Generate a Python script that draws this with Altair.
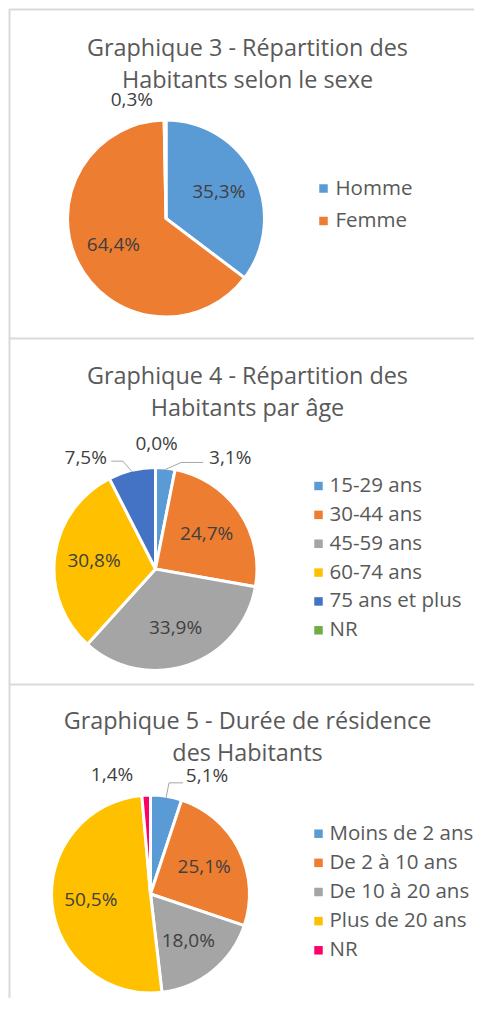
import math
import altair as alt
import pandas as pd

# ---------------- data ----------------
titles = [
    "Graphique 3 - Répartition des\nHabitants selon le sexe",
    "Graphique 4 - Répartition des\nHabitants par âge",
    "Graphique 5 - Durée de résidence\ndes Habitants",
]

sexe_cats = ["Homme", "Femme", "NR"]
sexe_vals = [35.3, 64.4, 0.3]
sexe_legend = ["Homme", "Femme"]

age_cats = ["15-29 ans", "30-44 ans", "45-59 ans", "60-74 ans", "75 ans et plus", "NR"]
age_vals = [3.1, 24.7, 33.9, 30.8, 7.5, 0.0]

duree_cats = ["Moins de 2 ans", "De 2 à 10 ans", "De 10 à 20 ans", "Plus de 20 ans", "NR"]
duree_vals = [5.1, 25.1, 18.0, 50.5, 1.4]

# ---------------- styles / layout ----------------
colors_sexe = ["#5B9BD5", "#ED7D31", "#FFFFFF"]
colors_age = ["#5B9BD5", "#ED7D31", "#A5A5A5", "#FFC000", "#4472C4", "#70AD47"]
colors_duree = ["#5B9BD5", "#ED7D31", "#A5A5A5", "#FFC000", "#FF0066"]

FONT = "Open Sans"
W = 466
TOTAL_H = 990
BORDER = "#D9D9D9"
TITLE_COLOR = "#595959"
LABEL_COLOR = "#404040"
LEADER_COLOR = "#A6A6A6"

panels = [
    dict(cats=sexe_cats, vals=sexe_vals, legend=sexe_legend, colors=colors_sexe,
         title=titles[0], top=0, cx=157, cy=209.5, R=97, r_in=59, title_y=47.2,
         leg_x=314.5, leg_lx=326.5, leg_y=(179.5, 212),
         outside={"NR": dict(r=123, off=-15.6)}),
    dict(cats=age_cats, vals=age_vals, legend=age_cats, colors=colors_age,
         title=titles[1], top=329, cx=146.5, cy=231, R=100, r_in=62, title_y=46.3,
         leg_x=309.5, leg_lx=320.5, leg_y=(148, 292.3),
         outside={"15-29 ans": dict(r=134, off=28.3, leader=(-27, 4.7, -22)),
                  "NR": dict(r=125, off=0.5),
                  "75 ans et plus": dict(r=131, off=-18.7, leader=(25.5, 3, 11.7))}),
    dict(cats=duree_cats, vals=duree_vals, legend=duree_cats, colors=colors_duree,
         title=titles[2], top=675, cx=141.5, cy=210, R=97.5, r_in=60, title_y=45.3,
         leg_x=309.5, leg_lx=320.5, leg_y=(149.7, 266.3),
         outside={"Moins de 2 ans": dict(r=131, off=16.4, leader=(-24, 7, -14)),
                  "NR": dict(r=125, off=-15.4)}),
]


def fmt(v):
    return f"{v:.1f}".replace(".", ",") + "%"


def panel_layers(p):
    cats, vals = p["cats"], p["vals"]
    t0 = p["top"]
    cx, cy, R = p["cx"], p["cy"] + t0, p["R"]
    total = sum(vals)
    outside = p["outside"]

    df = pd.DataFrame({
        "cat": cats,
        "v": vals,
        "o": list(range(len(cats))),
        "lab_in": [("" if c in outside else fmt(v)) for c, v in zip(cats, vals)],
    })

    # outside labels and leader lines, positioned from the slice angles
    out_rows, lead_rows = [], []
    cum = 0.0
    for c, v in zip(cats, vals):
        mid = (cum + v / 2) / total * 2 * math.pi
        cum += v
        if c in outside:
            spec = outside[c]
            ang = mid + math.radians(spec["off"])
            out_rows.append({"cat": c, "lab": fmt(v), "ang": ang, "r": spec["r"]})
            if "leader" in spec:
                ex, ey, bx = spec["leader"]
                lx = cx + spec["r"] * math.sin(ang)
                ly = cy - spec["r"] * math.cos(ang)
                sx = cx + R * math.sin(mid)
                sy = cy - R * math.cos(mid)
                endx, endy = lx + ex, ly + ey
                lead_rows += [
                    {"cat": c, "k": 0, "x": sx, "y": sy},
                    {"cat": c, "k": 1, "x": endx + bx, "y": endy},
                    {"cat": c, "k": 2, "x": endx, "y": endy},
                ]
    dfo = pd.DataFrame(out_rows)
    dleg = pd.DataFrame({"cat": p["legend"]})
    one = pd.DataFrame({"t": [p["title"]]})

    color = alt.Color("cat:N", scale=alt.Scale(domain=cats, range=p["colors"]), legend=None)

    top_rule = alt.Chart(one).mark_rule(color=BORDER, strokeWidth=2).encode(
        x=alt.value(0), x2=alt.value(W), y=alt.value(t0 + 0.5))

    title = alt.Chart(one).mark_text(
        align="center", baseline="alphabetic", lineBreak="\n", lineHeight=31.5,
        font=FONT, fontSize=23.4, color=TITLE_COLOR,
    ).encode(x=alt.value(238.5), y=alt.value(t0 + p["title_y"]), text="t:N")

    arcs = alt.Chart(df).mark_arc(
        outerRadius=R + 1.5, stroke="white", strokeWidth=3
    ).encode(
        theta=alt.Theta("v:Q", stack=True),
        order=alt.Order("o:Q"),
        color=color,
        x=alt.value(cx), y=alt.value(cy),
    )

    inside = alt.Chart(df).mark_text(
        radius=p["r_in"], font=FONT, fontSize=19, color=LABEL_COLOR,
        align="center", baseline="middle",
    ).encode(
        theta=alt.Theta("v:Q", stack=True),
        order=alt.Order("o:Q"),
        text="lab_in:N",
        x=alt.value(cx), y=alt.value(cy),
    )

    outs = alt.Chart(dfo).mark_text(
        font=FONT, fontSize=19, color=LABEL_COLOR, align="center", baseline="middle",
    ).encode(
        theta=alt.Theta("ang:Q", scale=None),
        radius=alt.Radius("r:Q", scale=None),
        text="lab:N",
        x=alt.value(cx), y=alt.value(cy),
    )

    ly = alt.Y("cat:N", sort=p["legend"],
               scale=alt.Scale(type="point",
                               range=[t0 + p["leg_y"][0], t0 + p["leg_y"][1]],
                               padding=0),
               axis=None)
    leg_sq = alt.Chart(dleg).mark_square(size=72, opacity=1).encode(
        x=alt.value(p["leg_x"]), y=ly, color=color)
    leg_tx = alt.Chart(dleg).mark_text(
        align="left", baseline="middle", font=FONT, fontSize=20.5, color=TITLE_COLOR,
    ).encode(x=alt.value(p["leg_lx"]), y=ly, text="cat:N")

    layers = [top_rule, title, arcs, inside, outs]
    if lead_rows:
        dfl = pd.DataFrame(lead_rows)
        leaders = alt.Chart(dfl).mark_line(color=LEADER_COLOR, strokeWidth=1).encode(
            x=alt.X("x:Q", scale=None),
            y=alt.Y("y:Q", scale=None),
            detail="cat:N",
            order=alt.Order("k:Q"),
        )
        layers.append(leaders)
    layers += [leg_sq, leg_tx]
    return layers


left_rule = alt.Chart(pd.DataFrame({"t": [0]})).mark_rule(color=BORDER, strokeWidth=2).encode(
    x=alt.value(0.5), y=alt.value(0), y2=alt.value(TOTAL_H))

all_layers = [left_rule]
for p in panels:
    all_layers += panel_layers(p)

chart = alt.layer(*all_layers).resolve_scale(
    color="independent", theta="independent", x="independent", y="independent"
).properties(
    width=W, height=TOTAL_H, padding=0,
    autosize=alt.AutoSizeParams(type="fit", contains="padding"),
).configure_view(stroke=None)

chart.save("out.html", embed_options={"renderer": "svg", "actions": False})
